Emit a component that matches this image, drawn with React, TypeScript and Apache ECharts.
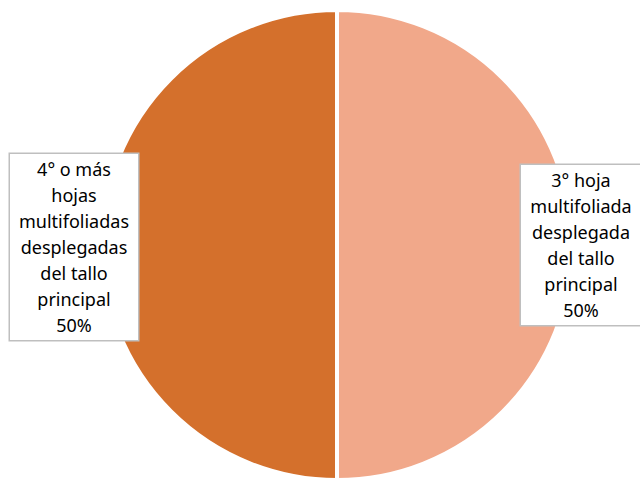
import React, { useEffect, useRef } from "react";
import * as echarts from "echarts";

const categories = [
  "3° hoja\nmultifoliada\ndesplegada\ndel tallo\nprincipal",
  "4° o más\nhojas\nmultifoliadas\ndesplegadas\ndel tallo\nprincipal",
];
const values = [50, 50];
const colors = ["#F1A88A", "#D4702C"];

export default function App() {
  const ref = useRef<HTMLDivElement>(null);
  useEffect(() => {
    if (!ref.current) return;
    const chart = echarts.init(ref.current, null, { renderer: "svg" });
    const labelPos = [
      { x: 581, y: 245, w: 104 },
      { x: 74, y: 247, w: 112 },
    ];
    chart.setOption({
      animation: false,
      backgroundColor: "#ffffff",
      series: [
        {
          type: "pie",
          center: [337, 245],
          radius: 235,
          startAngle: 90,
          clockwise: true,
          itemStyle: { borderColor: "#ffffff", borderWidth: 4 },
          labelLine: { show: false },
          label: {
            show: true,
            position: "outside",
            formatter: "{b}\n{d}%",
            fontFamily: "Noto Sans",
            fontSize: 18,
            lineHeight: 26,
            color: "#000000",
            align: "center",
            backgroundColor: "#ffffff",
            borderColor: "#BFBFBF",
            borderWidth: 1.5,
            padding: [3, 8, 1, 8],
          },
          labelLayout: (params: any) => {
            const p = labelPos[params.dataIndex];
            return { x: p.x, y: p.y, align: "center", verticalAlign: "middle" };
          },
          data: categories.map((name, i) => ({
            name,
            value: values[i],
            itemStyle: { color: colors[i] },
            label: { width: labelPos[i].w },
          })),
        },
      ],
    });
    return () => chart.dispose();
  }, []);
  return (
    <div
      ref={ref}
      style={{ position: "absolute", left: 0, top: 0, width: 640, height: 479 }}
    />
  );
}
